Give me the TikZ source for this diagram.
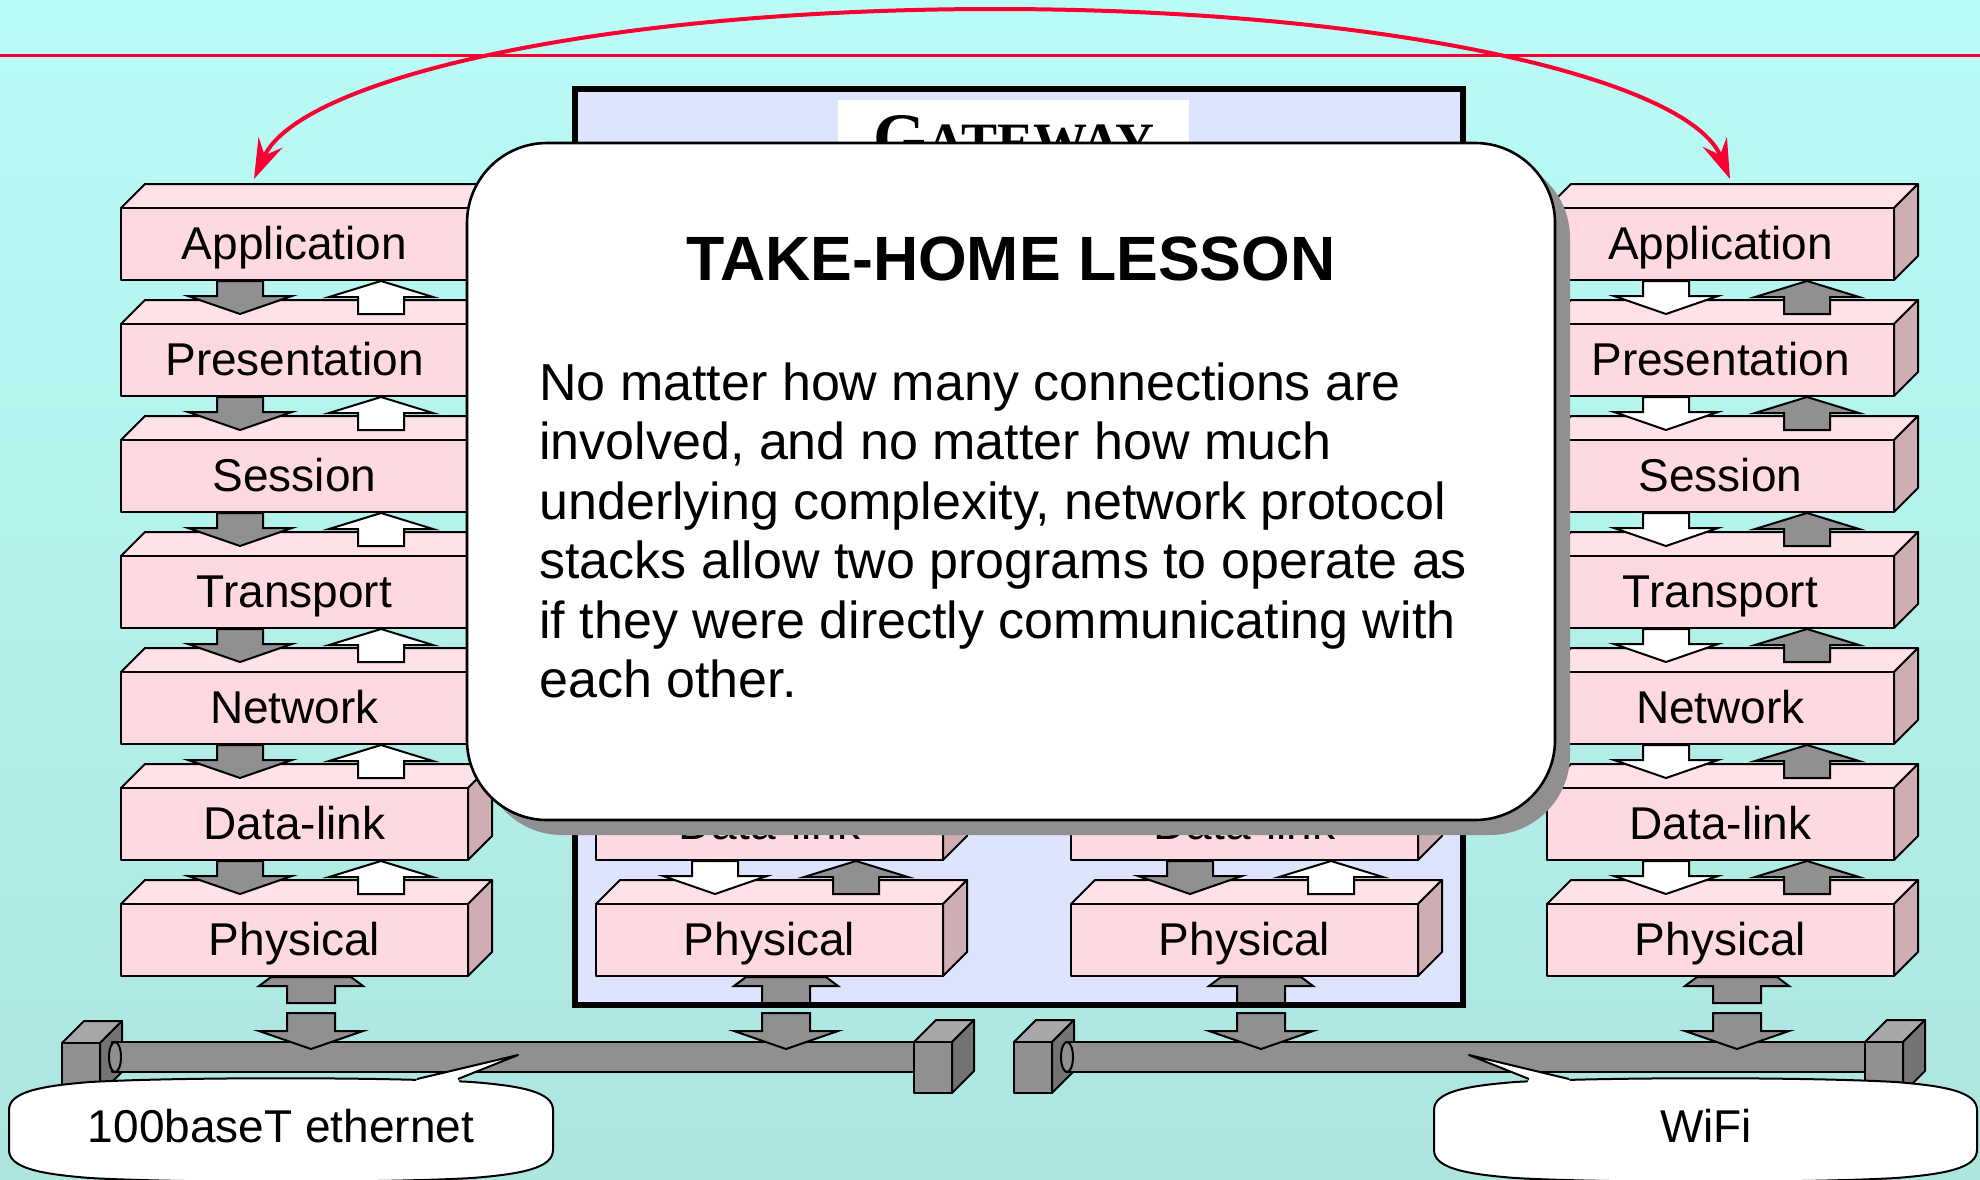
\documentclass[tikz,border=0pt]{standalone}
\usepackage{fontspec}
\setmainfont{Liberation Sans}
\newfontfamily\gwserif{Liberation Serif}
\usetikzlibrary{calc,arrows.meta}
\definecolor{bgtop}{RGB}{186,252,246}
\definecolor{bgbot}{RGB}{173,229,223}
\definecolor{pinkfront}{RGB}{255,217,225}
\definecolor{pinktop}{RGB}{255,226,232}
\definecolor{mauve}{RGB}{206,173,179}
\definecolor{gatefill}{RGB}{221,229,254}
\definecolor{agray}{RGB}{144,144,144}
\definecolor{btop}{RGB}{168,168,168}
\definecolor{bside}{RGB}{115,115,115}
\definecolor{redc}{RGB}{250,0,50}

\tikzset{
  boxline/.style={draw=black, line width=1pt, line join=round},
  arrline/.style={draw=black, line width=1pt, line join=miter},
  layer/.style={boxline, fill=pinkfront, minimum width=173.5pt, minimum height=36pt,
    inner sep=0pt, text height=22pt, text depth=7pt, font=\fontsize{23}{23}\selectfont},
  lbl/.style={inner sep=0pt, font=\fontsize{23}{23}\selectfont},
  bodytxt/.style={inner sep=0pt, anchor=base west, font=\fontsize{26}{26}\selectfont},
  redline/.style={draw=redc, line width=1.5pt},
  redarc/.style={draw=redc, line width=2pt, {Stealth[length=20pt,width=13pt,inset=7pt]}-{Stealth[length=20pt,width=13pt,inset=7pt]}},
}

\newcommand\dnarr[2]{\draw[arrline,fill=#2] ($(#1.south west)+(97,0)$) -- ++(46,0) -- ++(0,15) -- ++(29,0) -- ++(-52,18) -- ++(-52,-18) -- ++(29,0) -- cycle;}
\newcommand\uparr[2]{\draw[arrline,fill=#2] ($(#1.south west)+(261,0)$) -- ++(52,16) -- ++(-29,0) -- ++(0,17) -- ++(-46,0) -- ++(0,-17) -- ++(-29,0) -- cycle;}
\newcommand\physup[1]{\draw[arrline,fill=agray] ($(#1.south west)+(151,0)$) -- ++(80,0) -- ++(12,9) -- ++(-28,0) -- ++(0,17) -- ++(-48,0) -- ++(0,-17) -- ++(-28,0) -- cycle;}
\newcommand\physdn[1]{\draw[arrline,fill=agray] ($(#1.south west)+(167,36)$) -- ++(48,0) -- ++(0,18) -- ++(28,0) -- ++(-52,18) -- ++(-52,-18) -- ++(28,0) -- cycle;}
\newcommand\blockbox[2]{%
  \filldraw[boxline,fill=btop] (#1,#2) -- ++(22,-22) -- ++(38,0) -- ++(-22,22) -- cycle;
  \filldraw[boxline,fill=bside] (#1+38,#2) -- ++(22,-22) -- ++(0,51) -- ++(-22,22) -- cycle;
  \filldraw[boxline,fill=agray] (#1,#2) rectangle ++(38,51);}
\newcommand\bubble[2]{%
  \pgfmathsetmacro\xa{#1}\pgfmathsetmacro\xb{#2}%
  \filldraw[boxline, fill=white] (\xa,1110) .. controls (\xa,1092) and (\xa+31,1086) .. (\xa+81,1082)
    .. controls (\xa+170,1077) and (\xb-170,1077) .. (\xb-81,1082)
    .. controls (\xb-31,1086) and (\xb,1092) .. (\xb,1110) -- (\xb,1150)
    .. controls (\xb,1168) and (\xb-31,1174) .. (\xb-81,1178)
    .. controls (\xb-170,1183) and (\xa+170,1183) .. (\xa+81,1178)
    .. controls (\xa+31,1174) and (\xa,1168) .. (\xa,1150) -- cycle;}

\begin{document}
\begin{tikzpicture}[x=0.5pt,y=-0.5pt]
\useasboundingbox (0,0) rectangle (1980,1179);
\shade[top color=bgtop, bottom color=bgbot] (0,0) rectangle (1980,1179);

% red horizontal line
\draw[redline] (0,55) -- (1980,55);

% gateway
\node[draw=black, line width=2.75pt, fill=gatefill, minimum width=444pt, minimum height=458pt, inner sep=0pt] (gw) at (1019,547) {};
\node[fill=white, minimum width=175.5pt, minimum height=37pt, inner sep=0pt] (gwtitlebox) at (1013.5,137) {};
\node[anchor=base, inner sep=0pt] (gwtitle) at (1014,160) {\gwserif\bfseries\fontsize{34}{34}\selectfont G\fontsize{27}{27}\selectfont ATEWAY};

% stacks (labels of layers hidden behind the lesson box are left empty)
\foreach \s/\xo/\hid in {L/121/0, G/596/5, H/1071/5, R/1547/0}{
  \foreach \i/\lab in {0/Application, 1/Presentation, 2/Session, 3/Transport, 4/Network, 5/Data-link, 6/Physical}{
    \pgfmathsetmacro\yt{208+116*\i}
    \ifnum\i<\hid\relax \def\txt{}\else \let\txt\lab\fi
    \filldraw[boxline, fill=pinktop] (\xo,\yt) -- ++(24,-24) -- ++(347,0) -- ++(-24,24) -- cycle;
    \filldraw[boxline, fill=mauve] (\xo+347,\yt) -- ++(24,-24) -- ++(0,72) -- ++(-24,24) -- cycle;
    \node[layer] (\s-\i) at (\xo+173.5,\yt+36) {\txt};
  }
}

% inter-layer arrows
\foreach \s/\dn/\up in {L/agray/white, G/white/agray, H/agray/white, R/white/agray}{
  \foreach \i in {0,...,5}{
    \dnarr{\s-\i}{\dn}
    \uparr{\s-\i}{\up}
  }
  \physup{\s-6}
}

% buses
\blockbox{62}{1043}
\filldraw[boxline,fill=agray] (112,1042) rectangle (930,1072);
\filldraw[boxline,fill=agray] (115,1057) ellipse [x radius=3pt, y radius=7.5pt];
\blockbox{914}{1042}

\blockbox{1014}{1042}
\filldraw[boxline,fill=agray] (1066,1042) rectangle (1875,1072);
\filldraw[boxline,fill=agray] (1067,1057) ellipse [x radius=3pt, y radius=7.5pt];
\blockbox{1865}{1042}

\foreach \s in {L,G,H,R}{ \physdn{\s-6} }

% take-home lesson callout
\fill[agray, rounded corners=40pt] (482,158) rectangle (1570,835);
\node[draw=black, line width=1.3pt, fill=white, rounded corners=40pt, minimum width=544pt, minimum height=338.5pt, inner sep=0pt] (lesson) at (1011,481.5) {};
\node[anchor=base, inner sep=0pt, font=\fontsize{31.3}{31.3}\selectfont\bfseries] (lessontitle) at (1011,280) {TAKE-HOME LESSON};
\node[bodytxt] (b1) at (539,400) {No matter how many connections are};
\node[bodytxt] (b2) at (539,459.5) {involved, and no matter how much};
\node[bodytxt] (b3) at (539,519) {underlying complexity, network protocol};
\node[bodytxt] (b4) at (539,578.5) {stacks allow two programs to operate as};
\node[bodytxt] (b5) at (539,638) {if they were directly communicating with};
\node[bodytxt] (b6) at (539,697.5) {each other.};

% bottom callouts
\bubble{9}{553}
\fill[white] (415,1084) -- (417,1079) -- (518,1055) -- (458,1079) -- (460,1084) -- cycle;
\draw[boxline] (417,1079) -- (518,1055) -- (458,1079);
\node[lbl, anchor=base] (eth) at (281,1142) {100baseT ethernet};

\bubble{1434}{1977}
\fill[white] (1571,1084) -- (1569,1079) -- (1469,1055) -- (1529,1079) -- (1527,1084) -- cycle;
\draw[boxline] (1569,1079) -- (1469,1055) -- (1529,1079);
\node[lbl, anchor=base] (wifi) at (1706,1142) {WiFi};

% red end-to-end arc
\coordinate (arcL) at ($(L-0.north west)+(134,-28)$);
\coordinate (arcR) at ($(R-0.north west)+(184,-28)$);
\coordinate (arcTop) at (995,9);
\draw[redarc] (arcL) .. controls +(45,-100) and +(-395,0) .. (arcTop) .. controls +(395,0) and +(-41,-100) .. (arcR);
\end{tikzpicture}
\end{document}
